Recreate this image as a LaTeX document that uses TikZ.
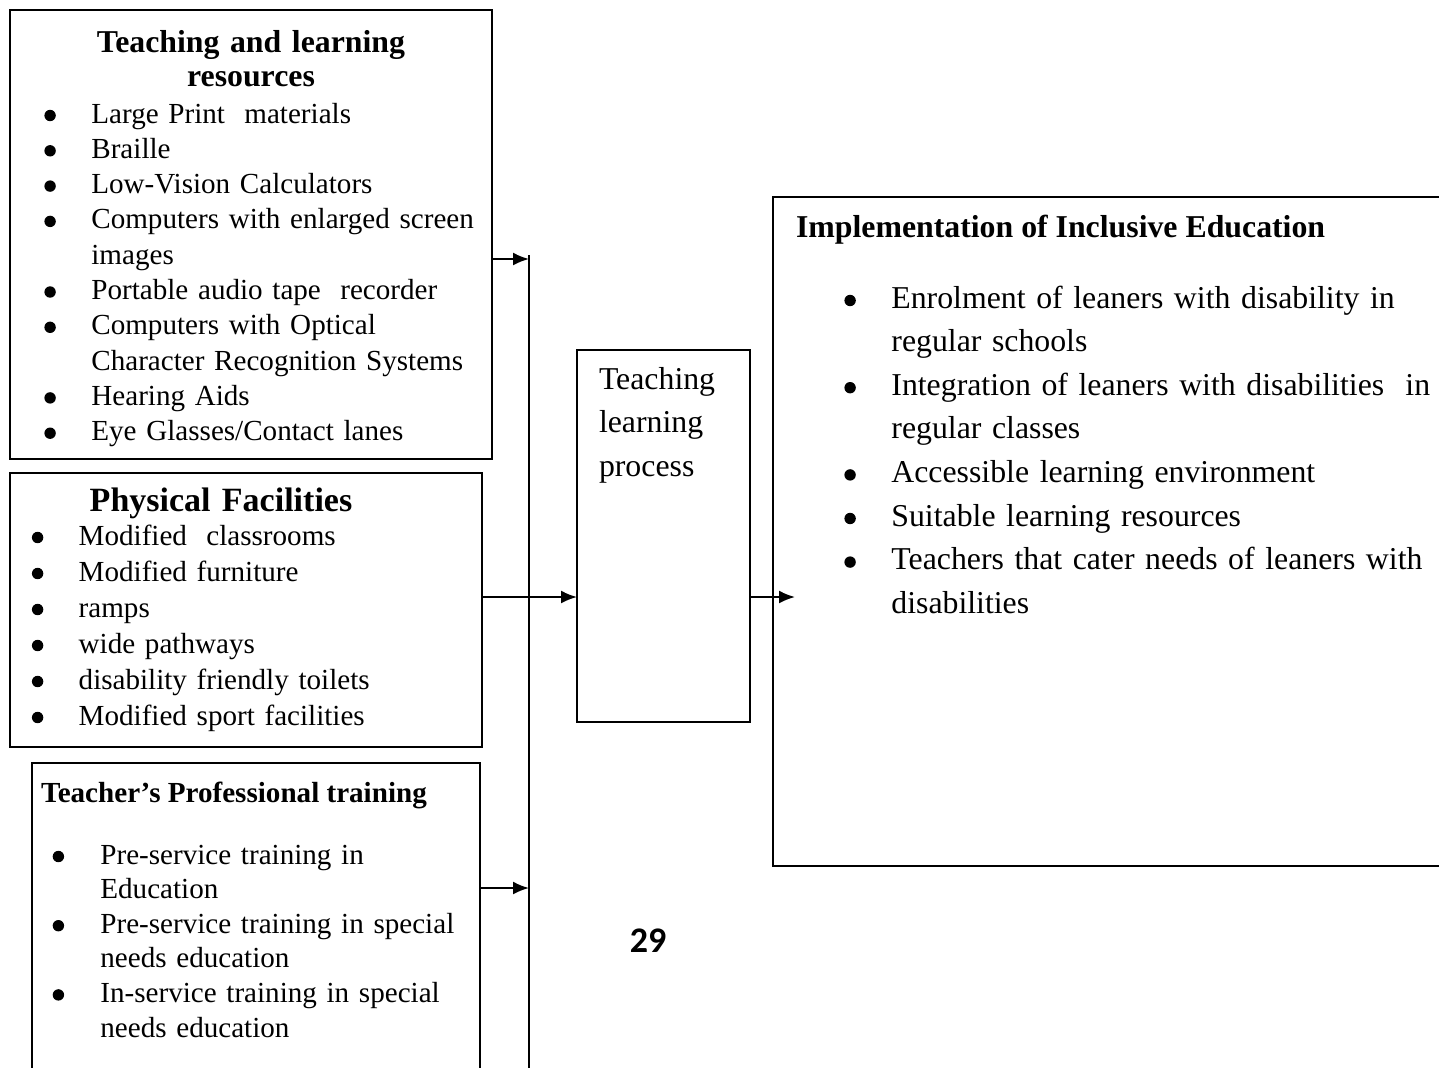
\documentclass[tikz,border=0pt]{standalone}
\usepackage{fontspec}
\setmainfont{Liberation Serif}
\newfontfamily\pagenumfont{Carlito}
\usetikzlibrary{positioning, arrows.meta}

\newlength{\bulletind}
\newcommand{\bulletmark}{\tikz[baseline=0pt]\fill (0pt,3.75pt) circle[radius=2.85pt];}
\newcommand{\bitem}[1]{\noindent\hangindent=\bulletind\hangafter=1\makebox[\bulletind][l]{\bulletmark}#1\par}

\begin{document}
\begin{tikzpicture}[x=0.5pt, y=-0.5pt, line width=1pt, >={Latex[length=8pt, width=6.5pt]}]

	\tikzstyle{frame}=[rectangle, draw=black, anchor=north west, inner sep=0pt, outer sep=0pt]
	\tikzstyle{head}=[inner sep=0pt, font=\bfseries\fontsize{15.9}{17}\selectfont]
	\tikzstyle{body}=[inner sep=0pt, anchor=base west, text width=250pt, align=left, font=\fontsize{14.55}{17.65}\selectfont]
	\tikzstyle{bigbody}=[body, font=\fontsize{15.9}{21.8}\selectfont]

	\useasboundingbox (0,0) rectangle (1439,1067);

	\node[frame, minimum width=241pt, minimum height=224.5pt] (resbox) at (10,10) {};
	\node[frame, minimum width=236pt, minimum height=137pt] (facbox) at (10,473) {};
	\node[frame, minimum width=224pt, minimum height=161pt] (trainbox) at (32,763) {};
	\node[frame, minimum width=86.5pt, minimum height=186pt] (procbox) at (577,350) {};
	\node[frame, minimum width=338.5pt, minimum height=334.5pt] (implbox) at (773,197) {};

	\node[head, anchor=base, text width=300pt, align=center] (restitle) at (251,52) {Teaching and learning\par resources};
	\node[body] (reslist) at (44,123) {\setlength{\bulletind}{23.5pt}%
		\bitem{Large Print~ materials}
		\bitem{Braille}
		\bitem{Low-Vision Calculators}
		\bitem{Computers with enlarged screen\newline images}
		\bitem{Portable audio tape~ recorder}
		\bitem{Computers with Optical\newline Character Recognition Systems}
		\bitem{Hearing Aids}
		\bitem{Eye Glasses/Contact lanes}};

	\node[head, anchor=base, text width=300pt, align=center, font=\bfseries\fontsize{17}{18}\selectfont] (factitle) at (221,511) {Physical Facilities};
	\node[body, font=\fontsize{14.55}{18}\selectfont] (faclist) at (31.5,545) {\setlength{\bulletind}{23.4pt}%
		\bitem{Modified~ classrooms}
		\bitem{Modified furniture}
		\bitem{ramps}
		\bitem{wide pathways}
		\bitem{disability friendly toilets}
		\bitem{Modified sport facilities}};

	\node[head, anchor=base west, font=\bfseries\fontsize{14.55}{17}\selectfont] (traintitle) at (40,802) {Teacher’s Professional training};
	\node[body, font=\fontsize{14.55}{17.3}\selectfont] (trainlist) at (52.3,864) {\setlength{\bulletind}{23.85pt}%
		\bitem{Pre-service training in\newline Education}
		\bitem{Pre-service training in special\newline needs education}
		\bitem{In-service training in special\newline needs education}};

	\node[bigbody] (proctext) at (598,389) {Teaching\par learning\par process};

	\node[head, anchor=base west] (impltitle) at (795,237) {Implementation of Inclusive Education};
	\node[bigbody, text width=300pt] (impllist) at (844,308) {\setlength{\bulletind}{23.5pt}%
		\bitem{Enrolment of leaners with disability in\newline regular schools}
		\bitem{Integration of leaners with disabilities~ in\newline regular classes}
		\bitem{Accessible learning environment}
		\bitem{Suitable learning resources}
		\bitem{Teachers that cater needs of leaners with\newline disabilities}};

	\node[font=\pagenumfont\bfseries\fontsize{18}{20}\selectfont] (pagenum) at (648,941) {29};

	\coordinate (busTop) at (529,255);
	\coordinate (busEnd) at (529,1085);
	\coordinate (implin) at (795,597);
	\draw (busTop) -- (busEnd);
	\draw[->] (resbox.east |- 0,259) -- (busTop |- 0,259);
	\draw[->] (facbox.east |- 0,597) -- (procbox.west |- 0,597);
	\draw[->] (trainbox.east |- 0,888) -- (busTop |- 0,888);
	\draw[->] (procbox.east |- implin) -- (implin);
\end{tikzpicture}
\end{document}
